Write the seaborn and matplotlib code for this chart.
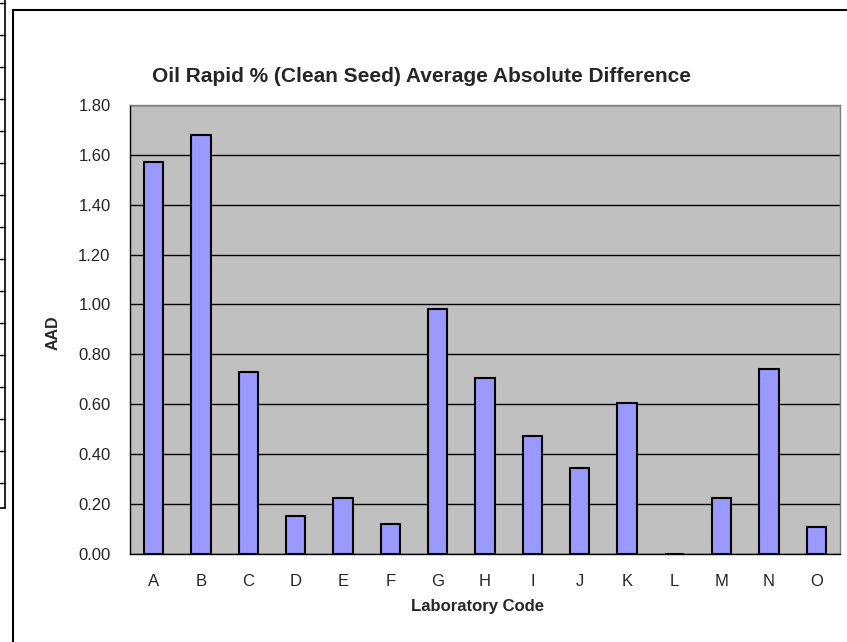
import matplotlib
matplotlib.use('Agg')
import matplotlib.pyplot as plt
import seaborn as sns
import pandas as pd
from matplotlib.patches import Rectangle
from matplotlib.lines import Line2D

# data
lab_codes = ['A', 'B', 'C', 'D', 'E', 'F', 'G', 'H', 'I', 'J', 'K', 'L', 'M', 'N', 'O']
aad_values = [1.57, 1.68, 0.73, 0.15, 0.225, 0.12, 0.98, 0.705, 0.47, 0.345, 0.605, 0.0, 0.225, 0.74, 0.105]
y_ticks = [0.0, 0.2, 0.4, 0.6, 0.8, 1.0, 1.2, 1.4, 1.6, 1.8]

df = pd.DataFrame({'Laboratory Code': lab_codes, 'AAD': aad_values})

sns.set_style('white')
plt.rcParams['font.family'] = ['Liberation Sans', 'DejaVu Sans']

fig = plt.figure(figsize=(8.47, 6.42), dpi=100)
ax = fig.add_axes([130 / 847, 1 - 553.6 / 642, 710 / 847, 448.6 / 642])

sns.barplot(data=df, x='Laboratory Code', y='AAD', color='#9999FF', saturation=1,
            edgecolor='black', linewidth=1.5, width=0.41, ax=ax, zorder=3)

ax.set_facecolor('#C0C0C0')
ax.set_ylim(0, 1.8)
ax.set_xlim(-0.5, len(lab_codes) - 0.5)
ax.set_yticks(y_ticks)
ax.set_yticklabels([f'{v:.2f}' for v in y_ticks], fontsize=12)
ax.yaxis.grid(True, color='black', linewidth=1)
ax.set_axisbelow(True)

# category ticks sit between the bars
ax.set_xticks(range(len(lab_codes)))
ax.set_xticklabels(lab_codes, fontsize=12)
ax.tick_params(axis='x', length=0, pad=15)
ax.set_xticks([i - 0.5 for i in range(len(lab_codes) + 1)], minor=True)
ax.tick_params(axis='x', which='minor', direction='out', length=5, width=1, color='black')
ax.tick_params(axis='y', direction='out', length=5, width=1, color='black', pad=9)

ax.set_xlabel('')
ax.set_ylabel('')
fig.text(477 / 847, 1 - 607 / 642, 'Laboratory Code', ha='center', va='center',
         fontsize=12, fontweight='bold')
fig.text(53 / 847, 1 - 333 / 642, 'AAD', ha='center', va='center', rotation=90,
         fontsize=11.5, fontweight='bold')

for side in ['left', 'bottom']:
    ax.spines[side].set_color('black')
    ax.spines[side].set_linewidth(1)
for side in ['top', 'right']:
    ax.spines[side].set_visible(True)
    ax.spines[side].set_color('#808080')
    ax.spines[side].set_linewidth(1)

fig.text(421 / 847, 1 - 77 / 642, 'Oil Rapid % (Clean Seed) Average Absolute Difference',
         ha='center', va='center', fontsize=15, fontweight='bold')

# chart frame
fig.patches.append(Rectangle((13 / 847, -0.1), 1.0, 1 - 10 / 642 + 0.1,
                             transform=fig.transFigure, fill=False,
                             edgecolor='black', linewidth=1.5, zorder=0))

# edge of the neighbouring chart on the left
fig.lines.append(Line2D([5 / 847, 5 / 847], [1.0, 1 - 508 / 642], transform=fig.transFigure,
                        color='black', linewidth=1.2))
fig.lines.append(Line2D([0, 5 / 847], [1 - 508 / 642, 1 - 508 / 642], transform=fig.transFigure,
                        color='black', linewidth=1.2))
for ty in range(3, 500, 32):
    fig.lines.append(Line2D([0, 5 / 847], [1 - ty / 642, 1 - ty / 642], transform=fig.transFigure,
                            color='black', linewidth=1))

fig.savefig('out.png', dpi=100)
